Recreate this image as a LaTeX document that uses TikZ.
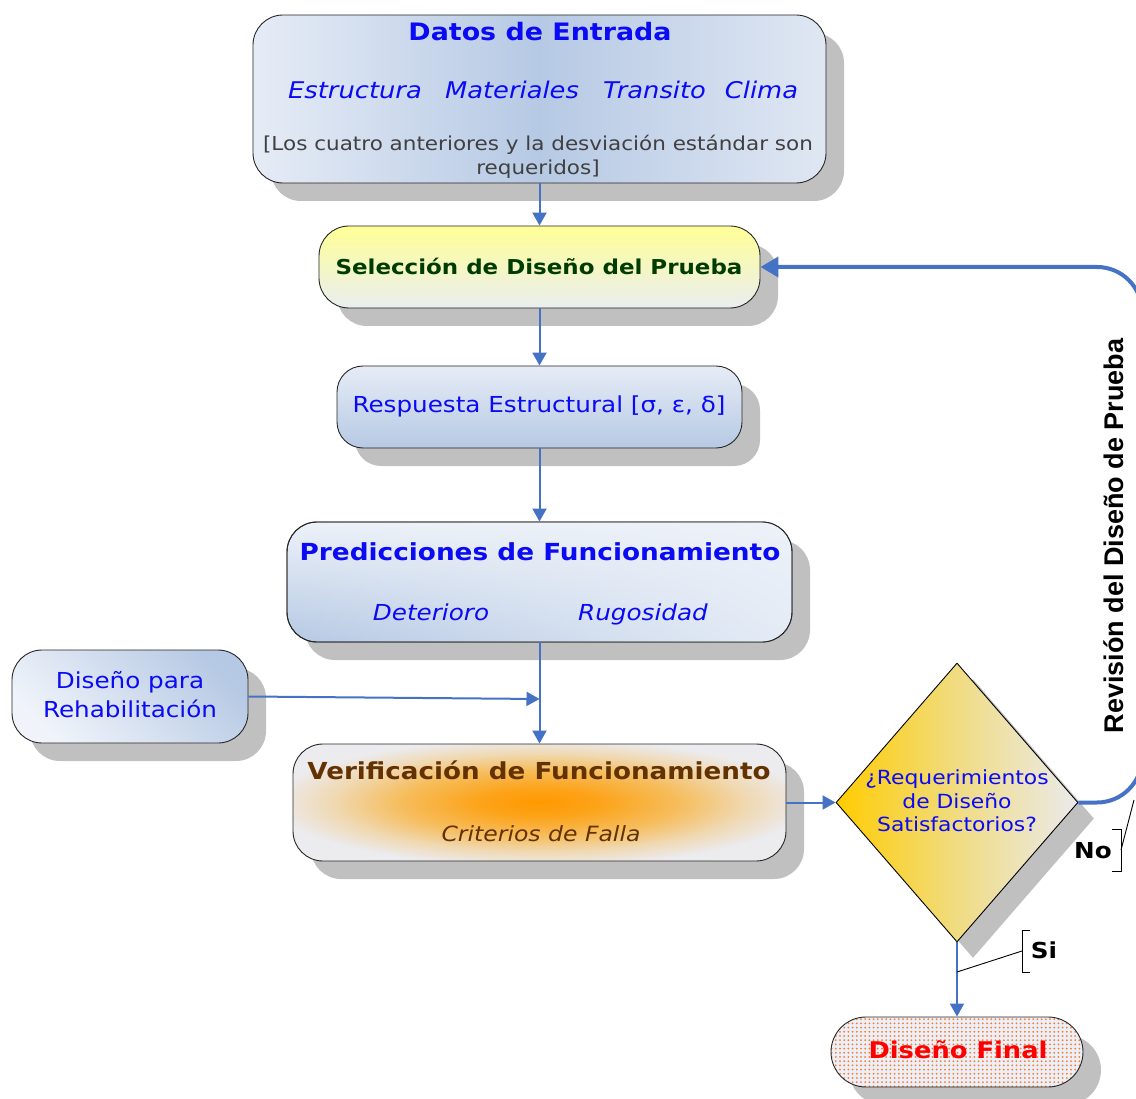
\documentclass[tikz,border=0pt]{standalone}
\usepackage{fontspec}
\setmainfont{DejaVu Sans}[FakeStretch=1.12]
\newfontfamily\arialfont{Liberation Sans}
\usetikzlibrary{arrows.meta,shapes.geometric,shadows,patterns,fadings}
\definecolor{tblue}{RGB}{10,10,245}
\definecolor{tgreen}{RGB}{0,60,0}
\definecolor{tbrown}{RGB}{100,50,0}
\definecolor{tred}{RGB}{255,0,0}
\definecolor{tgray}{RGB}{64,64,64}
\definecolor{arr}{RGB}{68,114,196}
\definecolor{shad}{RGB}{192,192,192}
\definecolor{blueA}{RGB}{230,236,246}
\definecolor{blueB}{RGB}{182,201,228}
\definecolor{blueC}{RGB}{224,231,243}
\definecolor{yelA}{RGB}{255,255,150}
\definecolor{yelB}{RGB}{233,238,240}
\definecolor{dA}{RGB}{255,204,0}
\definecolor{dB}{RGB}{240,220,130}
\definecolor{dC}{RGB}{234,234,236}
\definecolor{finbg}{RGB}{234,239,248}
\definecolor{dotc}{RGB}{255,120,40}
\pgfdeclareradialshading{vershade}{\pgfpoint{0bp}{0bp}}{rgb(0bp)=(1,0.6,0); rgb(6bp)=(0.99,0.64,0.1); rgb(14bp)=(0.965,0.74,0.36); rgb(21bp)=(0.94,0.85,0.7); rgb(27bp)=(0.925,0.92,0.93); rgb(50bp)=(0.925,0.925,0.94)}
\pgfdeclarepatternformonly{bigdots}{\pgfqpoint{-1.2pt}{-1.2pt}}{\pgfqpoint{1.2pt}{1.2pt}}{\pgfqpoint{4.2pt}{4.2pt}}{\pgfpathcircle{\pgfqpoint{0pt}{0pt}}{1pt}\pgfusepath{fill}}
\tikzfading[name=fadeR, left color=transparent!100, right color=transparent!15]
\begin{document}
\begin{tikzpicture}[x=1pt,y=-1pt,
  box/.style={draw=black!85, line width=0.9pt, rounded corners=30pt, inner sep=0pt,
    drop shadow={shadow xshift=18pt, shadow yshift=-18pt, fill=shad, opacity=1}},
  txt/.style={inner sep=0pt, align=center},
  conn/.style={draw=arr, line width=2pt, -{Triangle[width=14pt,length=13pt]}},
  loopc/.style={draw=arr, line width=4pt, rounded corners=45pt, -{Triangle[width=20pt,length=18pt]}},
  callout/.style={draw=black, line width=0.9pt}]
\path[use as bounding box] (0,0) rectangle (1136,1099);

% boxes
\node[box, minimum width=573pt, minimum height=168pt, left color=blueA, right color=blueC, middle color=blueB] (datos) at (539.5,99) {};
\node[box, minimum width=441pt, minimum height=82pt, top color=yelA, bottom color=yelB] (sel) at (539.5,267) {};
\node[box, rounded corners=26pt, minimum width=405pt, minimum height=82pt, top color=blueA, bottom color=blueB] (resp) at (539.5,407) {};
\node[box, minimum width=505pt, minimum height=120pt, top color=blueA!70!white, bottom color=blueB,
  postaction={fill=blueA!70!white, path fading=fadeR}, postaction={draw=black!85, line width=0.9pt}] (pred) at (539.5,582) {};
\node[box, minimum width=236pt, minimum height=93pt, shading=axis, top color=blueB, bottom color=blueA!60!white, shading angle=-45] (reh) at (130,696.5) {};
\node[box, minimum width=493pt, minimum height=117pt, shading=vershade] (ver) at (539.5,802.5) {};
\node[diamond, draw=black, line width=0.9pt, inner sep=0pt, minimum width=242pt, minimum height=279pt,
  left color=dA, right color=dC, middle color=dB,
  drop shadow={shadow xshift=16pt, shadow yshift=-16pt, fill=shad, opacity=1}] (dia) at (957,802.5) {};
\node[box, rounded corners=35pt, minimum width=252pt, minimum height=70pt, preaction={fill=finbg}, pattern=bigdots, pattern color=dotc] (fin) at (957,1052) {};

% texts
\node[txt, font=\bfseries\fontsize{24}{28}\selectfont, text=tblue] (t1) at (540,32) {Datos de Entrada};
\node[txt, anchor=base, font=\itshape\fontsize{23}{27}\selectfont, text=tblue] (t2a) at (355,99) {Estructura};
\node[txt, anchor=base, font=\itshape\fontsize{23}{27}\selectfont, text=tblue] (t2b) at (512,99) {Materiales};
\node[txt, anchor=base, font=\itshape\fontsize{23}{27}\selectfont, text=tblue] (t2c) at (654.5,99) {Transito};
\node[txt, anchor=base, font=\itshape\fontsize{23}{27}\selectfont, text=tblue] (t2d) at (761.5,99) {Clima};
\node[txt, font=\fontsize{19.2}{24}\selectfont, text=tgray] (t3) at (538,157) {[Los cuatro anteriores y la desviación estándar son\\requeridos]};
\node[txt, font=\bfseries\fontsize{20.5}{24}\selectfont, text=tgreen] (t4) at (539,266) {Selección de Diseño del Prueba};
\node[txt, font=\fontsize{22}{26}\selectfont, text=tblue] (t5) at (539,406) {Respuesta Estructural [σ, ε, δ]};
\node[txt, font=\bfseries\fontsize{23.5}{28}\selectfont, text=tblue] (t6) at (540,552) {Predicciones de Funcionamiento};
\node[txt, anchor=base, font=\itshape\fontsize{22}{26}\selectfont, text=tblue] (t7a) at (431,620) {Deterioro};
\node[txt, anchor=base, font=\itshape\fontsize{22}{26}\selectfont, text=tblue] (t7b) at (643,620) {Rugosidad};
\node[txt, font=\fontsize{22}{29}\selectfont, text=tblue] (t8) at (130,695) {Diseño para\\Rehabilitación};
\node[txt, font=\bfseries\fontsize{23.4}{28}\selectfont, text=tbrown] (t9) at (539,770) {Verificación de Funcionamiento};
\node[txt, font=\itshape\fontsize{21}{25}\selectfont, text=tbrown] (t10) at (541,834) {Criterios de Falla};
\node[txt, font=\fontsize{19.5}{23.5}\selectfont, text=tblue] (t11) at (957,801) {¿Requerimientos\\de Diseño\\Satisfactorios?};
\node[txt, font=\bfseries\fontsize{23}{27}\selectfont, text=tred] (t12) at (958,1050) {Diseño Final};
\node[txt, font=\arialfont\bfseries\fontsize{27}{30}\selectfont, rotate=90] (rev) at (1114,536) {Revisión del Diseño de Prueba};
\node[txt, font=\bfseries\fontsize{22}{25}\selectfont] (no) at (1093,851) {No};
\node[txt, font=\bfseries\fontsize{22}{25}\selectfont] (si) at (1044,950) {Si};

% connectors
\coordinate (mj) at (539.5,699);
\coordinate (rc) at (1142,267);
\draw[conn] (datos.south) -- (sel.north);
\draw[conn] (sel.south) -- (resp.north);
\draw[conn] (resp.south) -- (pred.north);
\draw[conn] (pred.south) -- (ver.north);
\draw[conn] (reh.east) -- (mj);
\draw[conn] (ver.east) -- (dia.west);
\draw[conn] (dia.south) -- (fin.north);
\draw[loopc] (dia.east) -| (rc) -- (sel.east);

% callouts
\coordinate (nb1) at (1112,829);
\coordinate (nb2) at (1121,829);
\coordinate (nb3) at (1121,871);
\coordinate (nb4) at (1112,871);
\coordinate (nbm) at (1121,850);
\coordinate (nbe) at (1134,800);
\draw[callout] (nb1) -- (nb2) -- (nb3) -- (nb4);
\draw[callout] (nbm) -- (nbe);
\coordinate (sb1) at (1030,930);
\coordinate (sb2) at (1022,930);
\coordinate (sb3) at (1022,972);
\coordinate (sb4) at (1030,972);
\coordinate (sbm) at (1022,951);
\coordinate (sbe) at (957,972);
\draw[callout] (sb1) -- (sb2) -- (sb3) -- (sb4);
\draw[callout] (sbm) -- (sbe);
\end{tikzpicture}
\end{document}
